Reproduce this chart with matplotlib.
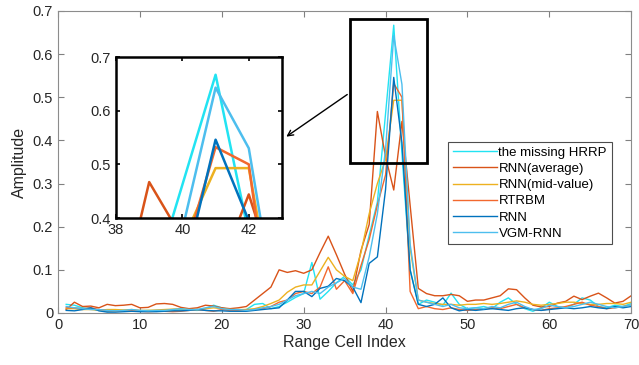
import matplotlib
matplotlib.use("Agg")
import matplotlib.pyplot as plt
import numpy as np

plt.rcParams["font.family"] = ["Liberation Sans", "DejaVu Sans"]

range_cells = np.arange(1, 71)

missing_hrrp = [
    0.020, 0.018, 0.012, 0.010, 0.006, 0.004, 0.005, 0.006, 0.004, 0.005,
    0.006, 0.005, 0.004, 0.006, 0.008, 0.007, 0.006, 0.010, 0.018, 0.012,
    0.008, 0.006, 0.008, 0.020, 0.022, 0.010, 0.015, 0.025, 0.036, 0.045,
    0.117, 0.032, 0.050, 0.070, 0.085, 0.065, 0.100, 0.180, 0.257, 0.462,
    0.667, 0.370, 0.100, 0.020, 0.030, 0.025, 0.018, 0.046, 0.020, 0.010,
    0.012, 0.015, 0.010, 0.025, 0.035, 0.020, 0.010, 0.004, 0.012, 0.025,
    0.015, 0.012, 0.020, 0.035, 0.030, 0.015, 0.012, 0.018, 0.015, 0.022,
]
rnn_average = [
    0.008, 0.025, 0.015, 0.016, 0.012, 0.020, 0.017, 0.018, 0.020, 0.012,
    0.013, 0.021, 0.022, 0.020, 0.013, 0.010, 0.012, 0.018, 0.016, 0.012,
    0.010, 0.012, 0.015, 0.030, 0.045, 0.060, 0.100, 0.094, 0.098, 0.092,
    0.100, 0.140, 0.178, 0.135, 0.090, 0.050, 0.145, 0.205, 0.467, 0.362,
    0.285, 0.444, 0.250, 0.057, 0.045, 0.040, 0.040, 0.043, 0.040, 0.027,
    0.030, 0.030, 0.035, 0.040, 0.056, 0.054, 0.035, 0.018, 0.014, 0.015,
    0.023, 0.027, 0.039, 0.031, 0.039, 0.046, 0.035, 0.023, 0.027, 0.040,
]
rnn_mid_value = [
    0.010, 0.010, 0.008, 0.008, 0.006, 0.008, 0.008, 0.007, 0.008, 0.006,
    0.006, 0.007, 0.008, 0.009, 0.010, 0.008, 0.008, 0.010, 0.012, 0.010,
    0.008, 0.008, 0.008, 0.010, 0.015, 0.022, 0.030, 0.048, 0.060, 0.065,
    0.065, 0.097, 0.129, 0.100, 0.085, 0.075, 0.140, 0.230, 0.300, 0.356,
    0.493, 0.493, 0.150, 0.030, 0.025, 0.022, 0.020, 0.020, 0.018, 0.020,
    0.020, 0.022, 0.020, 0.022, 0.025, 0.028, 0.025, 0.020, 0.018, 0.020,
    0.022, 0.025, 0.025, 0.022, 0.020, 0.020, 0.022, 0.022, 0.020, 0.025,
]
rtrbm = [
    0.012, 0.012, 0.010, 0.012, 0.008, 0.005, 0.004, 0.004, 0.006, 0.004,
    0.003, 0.004, 0.004, 0.003, 0.004, 0.006, 0.008, 0.006, 0.004, 0.008,
    0.006, 0.005, 0.006, 0.008, 0.010, 0.015, 0.025, 0.030, 0.045, 0.050,
    0.045, 0.060, 0.107, 0.055, 0.075, 0.045, 0.110, 0.170, 0.250, 0.320,
    0.532, 0.500, 0.050, 0.010, 0.015, 0.010, 0.008, 0.012, 0.008, 0.006,
    0.008, 0.010, 0.012, 0.010, 0.015, 0.020, 0.012, 0.008, 0.006, 0.010,
    0.012, 0.015, 0.020, 0.025, 0.018, 0.015, 0.010, 0.012, 0.015, 0.018,
]
rnn = [
    0.006, 0.005, 0.008, 0.012, 0.005, 0.002, 0.002, 0.003, 0.004, 0.003,
    0.003, 0.003, 0.004, 0.005, 0.005, 0.006, 0.008, 0.006, 0.005, 0.005,
    0.004, 0.004, 0.004, 0.006, 0.008, 0.010, 0.012, 0.030, 0.050, 0.050,
    0.038, 0.057, 0.062, 0.080, 0.075, 0.060, 0.024, 0.115, 0.130, 0.286,
    0.546, 0.395, 0.100, 0.020, 0.015, 0.020, 0.035, 0.012, 0.005, 0.008,
    0.006, 0.008, 0.010, 0.008, 0.006, 0.010, 0.012, 0.008, 0.006, 0.008,
    0.010, 0.012, 0.010, 0.012, 0.015, 0.012, 0.010, 0.015, 0.012, 0.015,
]
vgm_rnn = [
    0.015, 0.012, 0.010, 0.008, 0.008, 0.006, 0.005, 0.006, 0.008, 0.006,
    0.005, 0.006, 0.006, 0.008, 0.010, 0.008, 0.008, 0.012, 0.015, 0.010,
    0.008, 0.008, 0.006, 0.008, 0.012, 0.015, 0.020, 0.030, 0.040, 0.045,
    0.050, 0.045, 0.060, 0.070, 0.080, 0.060, 0.055, 0.130, 0.230, 0.379,
    0.643, 0.530, 0.160, 0.030, 0.025, 0.020, 0.015, 0.020, 0.012, 0.010,
    0.012, 0.010, 0.015, 0.012, 0.020, 0.025, 0.015, 0.008, 0.010, 0.018,
    0.015, 0.012, 0.015, 0.020, 0.025, 0.020, 0.015, 0.012, 0.015, 0.018,
]

SERIES = (
    ("the missing HRRP", missing_hrrp, "#22E3F2"),
    ("RNN(average)", rnn_average, "#D95319"),
    ("RNN(mid-value)", rnn_mid_value, "#EDB120"),
    ("RTRBM", rtrbm, "#F2682E"),
    ("RNN", rnn, "#0072BD"),
    ("VGM-RNN", vgm_rnn, "#4DBEEE"),
)

fig = plt.figure(figsize=(6.39, 3.65), dpi=100)
ax = fig.add_axes([0.0908, 0.1425, 0.897, 0.8275])
for label, values, color in SERIES:
    ax.plot(range_cells, values, color=color, lw=1.0, label=label)

ax.set_xlim(0, 70)
ax.set_ylim(0, 0.7)
ax.set_xticks(np.arange(0, 71, 10))
ax.set_yticks(np.arange(0, 0.71, 0.1))
ax.set_yticklabels(["0", "0.1", "0.2", "0.3", "0.4", "0.5", "0.6", "0.7"])
ax.tick_params(direction="in", top=True, right=True, labelsize=10.5,
               colors="#808080", labelcolor="#262626", length=4, width=0.8)
for spine in ax.spines.values():
    spine.set_color("#8c8c8c")
    spine.set_linewidth(0.8)
ax.set_xlabel("Range Cell Index", fontsize=11.5, color="#262626", labelpad=2)
ax.set_ylabel("Amplitude", fontsize=11.5, color="#262626", labelpad=4)

# zoom box around the peak and arrow to the inset
ax.add_patch(plt.Rectangle((35.6, 0.348), 9.5, 0.334, fill=False,
                           edgecolor="black", lw=2.0, zorder=5))
ax.annotate("", xy=(27.6, 0.405), xytext=(35.6, 0.51),
            arrowprops=dict(arrowstyle="->", color="black", lw=1.0,
                            mutation_scale=10))

leg = ax.legend(loc="upper left", bbox_to_anchor=(0.681, 0.566), fontsize=9.5,
                handlelength=3.3, handletextpad=0.15, labelspacing=0.3,
                borderpad=0.35, borderaxespad=0.0, fancybox=False, framealpha=1)
leg.get_frame().set_edgecolor("#4d4d4d")
leg.get_frame().set_linewidth(0.8)

inset = fig.add_axes([0.1815, 0.4027, 0.2598, 0.441])
for label, values, color in SERIES:
    inset.plot(range_cells, values, color=color, lw=1.8)
inset.set_xlim(38, 43)
inset.set_ylim(0.4, 0.7)
inset.set_xticks([38, 40, 42])
inset.set_yticks([0.4, 0.5, 0.6, 0.7])
inset.tick_params(direction="in", top=True, right=True, labelsize=10.5,
                  labelcolor="#262626", length=3, width=1.2)
for spine in inset.spines.values():
    spine.set_color("black")
    spine.set_linewidth(1.8)

fig.savefig("out.png", dpi=100)
